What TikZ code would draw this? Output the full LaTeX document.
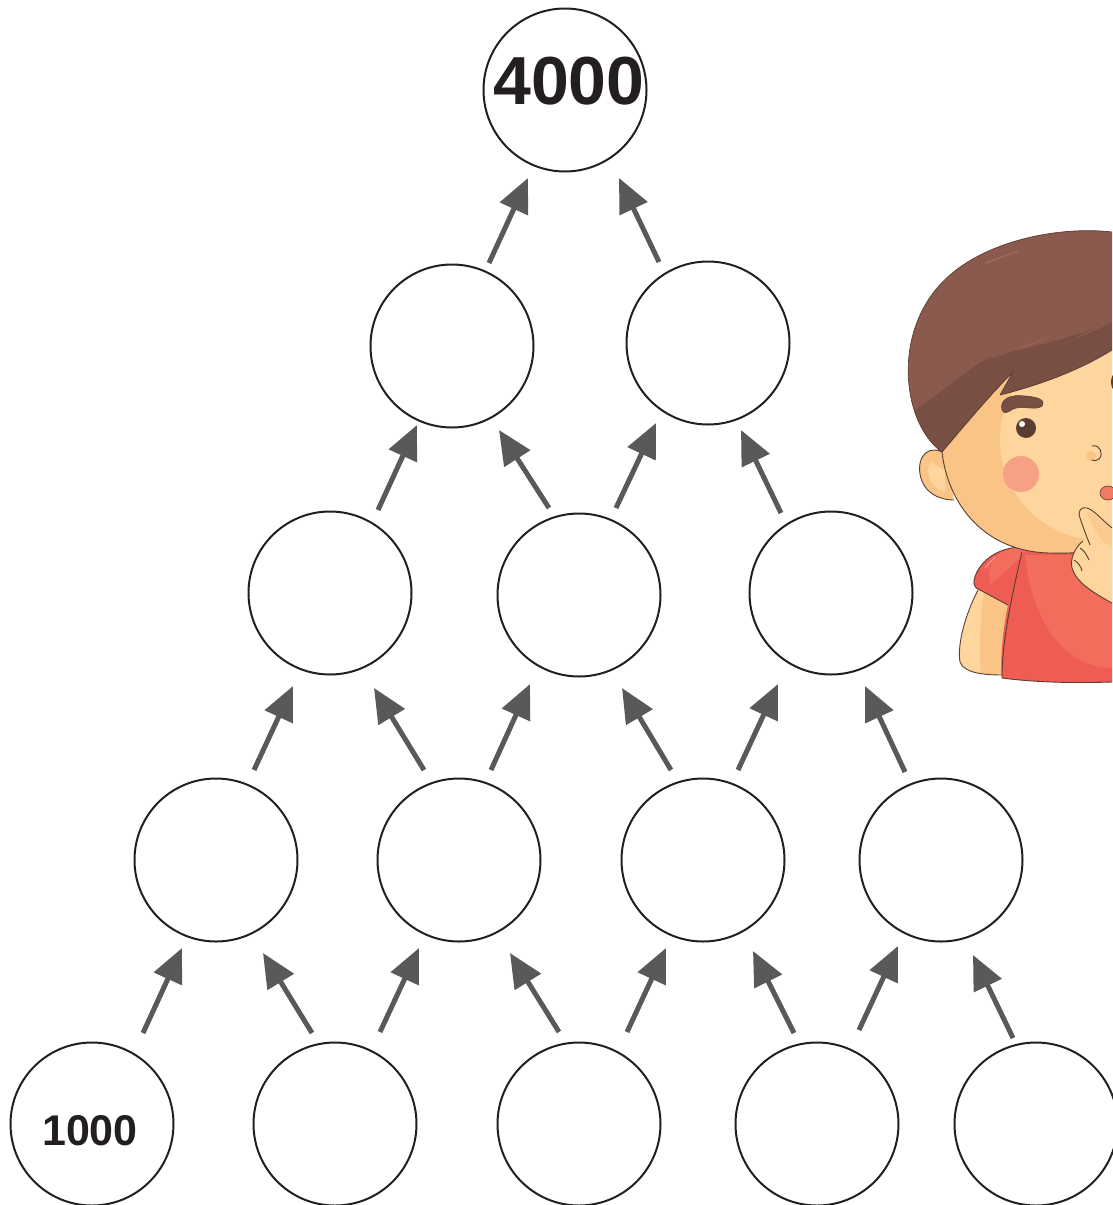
\documentclass[tikz,border=0pt]{standalone}
\usepackage{fontspec}
\setmainfont{Liberation Sans}
\usetikzlibrary{arrows.meta}

\definecolor{arrowgray}{HTML}{58595B}
\definecolor{ringcol}{HTML}{231F20}
\definecolor{hairA}{HTML}{8A5A4E}
\definecolor{hairB}{HTML}{7A4F43}
\definecolor{hairHi}{HTML}{A2685A}
\definecolor{skinA}{HTML}{FDD59D}
\definecolor{skinB}{HTML}{F9C485}
\definecolor{shirtA}{HTML}{F26D5C}
\definecolor{shirtB}{HTML}{EE5C53}
\definecolor{cheek}{HTML}{F6A086}
\definecolor{mouth}{HTML}{F07A68}
\definecolor{ink}{HTML}{5B3D33}

\tikzset{
  ring/.style={circle, draw=ringcol, line width=2pt, minimum size=163pt, inner sep=0pt},
  arr/.style={draw=arrowgray, line width=5pt, -{Triangle[length=34pt,width=30pt]}},
  bignum/.style={font=\fontsize{68}{68}\selectfont\bfseries, text=ringcol},
  smallnum/.style={font=\fontsize{43}{43}\selectfont\bfseries, text=ringcol},
  outl/.style={draw=ink, line width=0.9pt, line join=round},
}

\begin{document}
\begin{tikzpicture}[x=1pt, y=-1pt]
\useasboundingbox (0,0) rectangle (1112,1205);

% ---------- pyramid of circles ----------
\node[ring, label={[bignum, yshift=9pt, xshift=4pt]center:4000}] (r0a) at (565,90) {};

\node[ring] (r1a) at (452,346) {};
\node[ring] (r1b) at (708,343) {};

\node[ring] (r2a) at (330,593) {};
\node[ring] (r2b) at (579,595) {};
\node[ring] (r2c) at (831,593) {};

\node[ring] (r3a) at (216,860) {};
\node[ring] (r3b) at (459,860) {};
\node[ring] (r3c) at (703,860) {};
\node[ring] (r3d) at (941,860) {};

\node[ring, label={[smallnum, yshift=-7pt, xshift=-2pt]center:1000}] (r4a) at (92,1124) {};
\node[ring] (r4b) at (335,1124) {};
\node[ring] (r4c) at (579,1124) {};
\node[ring] (r4d) at (817,1124) {};
\node[ring] (r4e) at (1036,1124) {};

% ---------- arrows between the rows ----------
\foreach \i/\sx/\sy/\ex/\ey in {
   1/489/263/528/178,   2/659/262/619/178,
   3/378/510/417/425,   4/549/508/499/430,   5/616/508/656/423,   6/781/513/741/430,
   7/254/770/293/686,   8/424/770/374/688,   9/491/770/530/684,  10/671/770/622/688,
  11/738/770/778/684,  12/905/772/865/686,
  13/143/1033/182/948, 14/312/1033/263/953, 15/380/1032/419/948, 16/559/1032/510/953,
  17/627/1032/666/948, 18/794/1033/753/951, 19/859/1030/898/946, 20/1013/1038/973/955}
{
  \coordinate (t\i) at (\sx,\sy);
  \coordinate (h\i) at (\ex,\ey);
  \draw[arr] (t\i) -- (h\i);
}

% ---------- the thinking boy ----------
% arm below the sleeve
\path[fill=skinA] (978,590) .. controls (965,615) and (957,645) .. (960,662)
  .. controls (964,674) and (988,675) .. (1003,675) -- (1008,604) -- cycle;
\begin{scope}
  \clip (978,590) .. controls (965,615) and (957,645) .. (960,662)
  .. controls (964,674) and (988,675) .. (1003,675) -- (1008,604) -- cycle;
  \fill[skinB] (985,585) .. controls (980,620) and (978,650) .. (982,680) -- (1010,680) -- (1010,585) -- cycle;
\end{scope}
\draw[outl] (978,590) .. controls (965,615) and (957,645) .. (960,662)
  .. controls (964,674) and (988,675) .. (1003,675);

% shirt
\path[fill=shirtB] (1030,547) .. controls (1002,545) and (983,558) .. (976,574)
  .. controls (972,584) and (974,588) .. (980,590) -- (1008,605)
  .. controls (1003,630) and (1000,655) .. (1002,678)
  .. controls (1040,683) and (1080,683) .. (1112,682) -- (1112,548) -- cycle;
\begin{scope}
  \clip (1030,547) .. controls (1002,545) and (983,558) .. (976,574)
  .. controls (972,584) and (974,588) .. (980,590) -- (1008,605)
  .. controls (1003,630) and (1000,655) .. (1002,678)
  .. controls (1040,683) and (1080,683) .. (1112,682) -- (1112,548) -- cycle;
  \fill[shirtA] (1030,545) .. controls (1000,545) and (985,560) .. (990,585)
    -- (1018,560) -- cycle;
  \fill[shirtA] (1025,555) .. controls (1030,600) and (1045,640) .. (1080,660)
    .. controls (1095,668) and (1105,668) .. (1112,668) -- (1112,555) -- cycle;
\end{scope}
\draw[outl] (1030,547) .. controls (1002,545) and (983,558) .. (976,574)
  .. controls (972,584) and (974,588) .. (980,590) -- (1008,605);
\draw[outl] (1022,552) .. controls (1012,595) and (1002,640) .. (1002,678)
  .. controls (1040,683) and (1080,683) .. (1112,682);
\draw[white, opacity=0.35, line width=1.2pt, line cap=round] (985,568) -- (995,557);

% ear
\path[fill=skinB, outl] (946,454) .. controls (929,443) and (917,456) .. (920,474)
  .. controls (923,492) and (938,500) .. (954,500);
\fill[skinA] (930,462) .. controls (925,472) and (930,488) .. (945,492) -- (945,470) -- cycle;

% face
\path[fill=skinB] (942,452) .. controls (948,505) and (985,552) .. (1050,553)
  .. controls (1080,554) and (1100,550) .. (1112,548) -- (1112,330) -- (1000,370) -- cycle;
\begin{scope}
  \clip (942,452) .. controls (948,505) and (985,552) .. (1050,553)
  .. controls (1080,554) and (1100,550) .. (1112,548) -- (1112,330) -- (1000,370) -- cycle;
  \fill[skinA] (1100,440) circle[radius=100];
\end{scope}
\draw[outl] (942,452) .. controls (948,505) and (985,552) .. (1050,553)
  .. controls (1080,554) and (1100,550) .. (1112,548);

% hair
\path[fill=hairA] (1112,232) .. controls (1060,226) and (990,240) .. (950,275)
  .. controls (915,305) and (905,350) .. (909,385)
  .. controls (912,415) and (925,440) .. (942,452)
  .. controls (965,425) and (990,395) .. (1013,372)
  -- (1000,395)
  .. controls (1040,385) and (1080,370) .. (1112,350) -- cycle;
\begin{scope}
  \clip (1112,232) .. controls (1060,226) and (990,240) .. (950,275)
  .. controls (915,305) and (905,350) .. (909,385)
  .. controls (912,415) and (925,440) .. (942,452)
  .. controls (965,425) and (990,395) .. (1013,372)
  -- (1000,395)
  .. controls (1040,385) and (1080,370) .. (1112,350) -- cycle;
  \fill[hairB] (900,420) .. controls (940,395) and (965,370) .. (990,357)
    .. controls (995,360) and (1000,355) .. (1010,352)
    .. controls (1040,345) and (1080,335) .. (1112,322) -- (1112,460) -- (900,460) -- cycle;
\end{scope}
\draw[ink, line width=0.7pt, line join=round] (1112,232) .. controls (1060,226) and (990,240) .. (950,275)
  .. controls (915,305) and (905,350) .. (909,385)
  .. controls (912,415) and (925,440) .. (942,452)
  .. controls (965,425) and (990,395) .. (1013,372)
  -- (1000,395)
  .. controls (1040,385) and (1080,370) .. (1112,350);
\draw[hairHi, line width=1.3pt, line cap=round] (986,263) -- (1018,251);
\draw[hairHi, line width=1pt, line cap=round, opacity=0.6] (1022,348) -- (1046,338);
\draw[hairHi, line width=1pt, line cap=round, opacity=0.6] (1078,337) -- (1105,325);

% eyebrow
\path[fill=hairB, draw=ink, line width=0.6pt]
  (1002,410) .. controls (999,399) and (1011,394) .. (1025,396)
  .. controls (1038,397) and (1046,400) .. (1042,406)
  .. controls (1036,411) and (1022,405) .. (1013,409)
  .. controls (1008,412) and (1004,415) .. (1002,410) -- cycle;

% eyes
\fill[ink] (1026,428) circle[radius=10];
\fill[white] (1022,424) circle[radius=3];
\fill[ink] (1116,382) ellipse[x radius=5, y radius=9];

% cheek
\fill[cheek] (1021,474) circle[radius=18];

% nose
\fill[skinB] (1091,456) circle[radius=5];
\draw[ink, line width=0.9pt, line cap=round] (1092,446) .. controls (1100,444) and (1104,454) .. (1099,459)
  .. controls (1097,461) and (1094,461) .. (1092,460);

% mouth
\path[fill=mouth, draw=ink, line width=0.6pt] (1108,493) ellipse[x radius=8, y radius=7];

% hand with raised finger
\path[fill=skinA] (1112,528) .. controls (1102,520) and (1094,510) .. (1087,508)
  .. controls (1081,506) and (1077,512) .. (1080,518)
  .. controls (1083,527) and (1086,535) .. (1087,539) -- (1083,541)
  .. controls (1074,548) and (1070,560) .. (1072,568)
  .. controls (1076,582) and (1092,592) .. (1112,603) -- cycle;
\fill[skinB, opacity=0.6] (1087,512) .. controls (1092,525) and (1098,540) .. (1112,548) -- (1112,530) .. controls (1102,522) and (1095,514) .. (1087,512) -- cycle;
\draw[outl] (1112,528) .. controls (1102,520) and (1094,510) .. (1087,508)
  .. controls (1081,506) and (1077,512) .. (1080,518)
  .. controls (1083,527) and (1086,535) .. (1090,545);
\draw[outl] (1083,541)
  .. controls (1074,548) and (1070,560) .. (1072,568)
  .. controls (1076,582) and (1092,592) .. (1112,603);
\draw[outl] (1080,548) .. controls (1085,551) and (1087,556) .. (1089,560);
\draw[outl] (1074,560) .. controls (1079,563) and (1081,567) .. (1082,571);
\end{tikzpicture}
\end{document}
